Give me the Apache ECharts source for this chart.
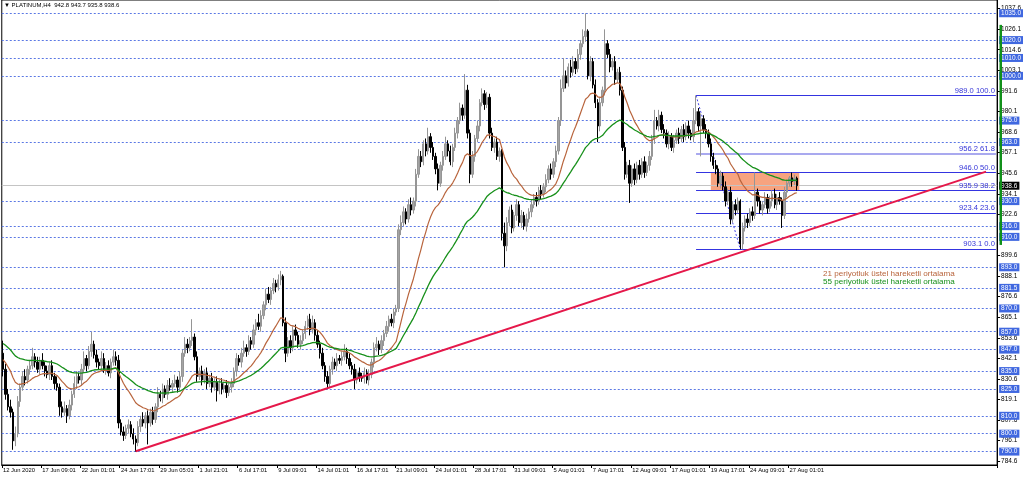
<!DOCTYPE html>
<html><head><meta charset="utf-8">
<script src="https://cdn.jsdelivr.net/npm/echarts@6/dist/echarts.min.js"></script>
<style>html,body{margin:0;padding:0;background:#fff}#c{width:1024px;height:478px}</style>
</head><body><div id="c"></div>
<script>
// ---------------- DATA ----------------
const firstOpen = 845;
const closes = [
836,822,815,812,796,800,818,826,832,830,
836,838,843,840,836,841,838,835,833,838,
832,828,826,815,812,814,810,816,822,828,
832,830,836,842,838,846,850,844,840,838,
842,836,838,834,840,843,841,806,801,799,
803,805,800,797,795,804,808,806,810,806,
812,808,815,822,820,825,822,827,826,828,
830,826,832,845,850,848,852,854,843,832,
835,830,834,828,831,826,829,824,828,825,
827,823,826,828,835,842,840,845,848,846,
852,850,858,862,860,866,872,878,875,880,
884,882,886,888,862,845,852,848,858,855,
850,852,856,860,864,858,862,855,850,845,
838,832,828,836,840,838,842,841,843,846,
842,838,836,830,834,832,831,834,830,833,
840,848,850,847,852,856,860,864,862,868,
870,914,918,924,920,928,925,930,945,955,
952,962,958,966,960,955,948,940,950,955,
962,958,952,960,968,975,982,978,992,968,
945,955,965,972,985,990,984,988,968,960,
963,955,958,912,905,918,925,915,922,928,
918,922,916,920,924,928,932,930,936,934,
938,942,948,945,952,958,975,993,1000,996,
1005,1002,1008,1004,1012,1018,1022,1025,1000,1008,
995,985,972,985,992,1018,1012,1005,1008,998,
1002,992,960,945,950,940,948,942,950,945,
952,946,950,955,965,975,972,978,970,968,
962,966,960,964,968,965,970,966,972,968,
966,975,980,972,976,970,968,962,955,950,
948,940,944,938,930,935,920,928,925,930,
906,915,920,918,924,922,935,930,925,928,
932,926,930,934,928,932,930,922,935,940,
943,941,942.8,938.6];
const upperWicks = [
7,3,3,4,2,4,3,2,3,4, 2,3,5,2,3,2,4,2,3,2, 3,2,4,2,3,4,2,3,2,4, 3,2,3,4,2,3,7,2,3,2,
4,3,2,3,2,4,3,3,2,3, 2,3,2,3,2,3,2,4,2,3, 2,3,2,4,2,3,2,3,4,2, 3,2,3,2,4,3,2,10,2,3,
2,3,2,3,2,3,2,3,2,3, 2,3,2,3,2,3,2,3,4,2, 3,2,3,2,5,3,2,3,4,2, 3,2,3,3,1,3,2,3,2,3,
2,3,2,3,2,3,4,2,3,2, 3,2,3,2,3,2,3,2,3,4, 2,3,2,3,2,3,2,3,2,3, 2,3,4,2,3,2,3,2,3,2,
2,3,4,3,2,3,4,2,3,4, 3,2,3,5,2,3,2,3,2,3, 4,2,3,2,3,2,3,2,9,3, 2,3,2,3,2,3,2,3,2,3,
2,3,2,1,6,3,2,3,2,3, 2,3,2,3,2,3,2,3,2,3, 2,3,2,3,2,3,2,5,10,3, 2,4,3,2,3,2,4,10,1,3,
2,3,2,3,2,8,2,3,2,3, 2,3,2,3,2,3,2,3,2,3, 2,3,2,3,2,6,2,3,2,3, 2,3,2,3,2,3,2,3,2,3,
2,7,9,2,3,2,3,2,3,2, 3,2,3,2,3,2,3,2,3,2, 1,3,2,3,2,3,11,2,3,2, 3,2,3,2,3,2,3,2,3,2,
1,3,2,0.9];
const lowerWicks = [
4,3,2,3,5,3,2,3,2,3, 2,3,2,3,2,3,2,3,2,3, 2,3,2,5,3,2,4,2,3,2, 3,2,3,2,3,2,3,2,3,2,
3,2,3,2,3,2,3,3,2,3, 2,3,2,3,5,2,3,2,3,12, 2,3,2,3,2,3,2,3,2,3, 2,3,2,3,2,3,2,3,2,3,
2,3,2,3,2,3,2,6,2,3, 2,3,2,3,2,3,2,3,2,3, 2,3,2,3,2,3,2,3,2,3, 2,3,2,3,2,5,2,3,2,3,
2,3,2,3,2,3,2,3,2,3, 2,3,3,2,3,2,3,2,3,2, 3,2,3,5,2,3,2,3,2,3, 2,3,2,3,2,3,2,3,2,3,
2,2,3,2,3,2,3,2,3,2, 3,2,3,2,3,2,3,4,2,3, 2,3,2,3,2,3,2,3,2,3, 5,2,3,2,3,2,3,2,3,2,
3,2,3,4,12,3,2,3,2,3, 2,3,2,3,2,3,2,3,2,3, 2,3,2,3,2,3,2,3,2,3, 2,3,2,3,2,3,2,3,2,3,
2,3,9,3,2,3,2,3,2,3, 2,3,2,3,2,11,2,3,2,3, 2,3,2,3,2,3,2,3,2,3, 2,3,2,3,2,3,2,3,2,3,
2,3,2,3,17,2,3,2,3,2, 3,2,3,2,3,2,3,2,3,2, 2.9,3,2,3,2,3,2,3,2,3, 2,3,2,3,2,3,2,7,2,3,
2,3,2,2.8];
const slotCount = 405;                 // chart slots incl. empty right margin
const xTickStep = 16;
const xTickLabels = ['12 Jun 2020','17 Jun 09:01','22 Jun 01:01','24 Jun 17:01','29 Jun 05:01',
 '1 Jul 21:01','6 Jul 17:01','9 Jul 09:01','14 Jul 01:01','16 Jul 17:01','21 Jul 09:01',
 '24 Jul 01:01','28 Jul 17:01','31 Jul 09:01','5 Aug 01:01','7 Aug 17:01','12 Aug 09:01',
 '17 Aug 01:01','19 Aug 17:01','24 Aug 09:01','27 Aug 01:01'];
const yTickValues = [784.6,796.1,807.6,819.1,830.6,842.1,853.6,865.1,876.6,888.1,899.6,
 922.6,934.1,945.6,957.1,968.6,980.1,991.6,1003.1,1014.6,1026.1,1037.6];
const levelLines = [1035,1020,1010,1000,975,963,930,916,910,893,881.5,870,857,847,835,825,810,800,790];
const fibLevels = [989.0,956.2,946.0,935.9,923.4,903.1];
const fibRatios = ['100.0','61.8','50.0','38.2','23.6','0.0'];
const fibStartBar = 282, fibEndBar = 404;
const fibSwing = [[282,989.0],[300,903.1]];
const trendLine = [[54,790.2],[400,946.5]];
const zoneBox = [[288,946.0],[324,935.9]];
const currentPrice = 938.6;
const rangeBar = [1028.5,905.5];
const emaSeed21 = 842, emaSeed55 = 851;
const headerText = '\u25BC PLATINUM,H4  942.8 943.7 935.8 938.6';
const legendTexts = ['21 periyotluk üstel hareketli ortalama','55 periyotluk üstel hareketli ortalama'];
// --------------------------------------

const FONT = "'Liberation Sans',Arial,sans-serif";
const categories = Array.from({length: slotCount}, (_, i) => String(i));
const candles = closes.map((c, i) => {
  const o = i === 0 ? firstOpen : closes[i - 1];
  return [o, c, Math.min(o, c) - lowerWicks[i], Math.max(o, c) + upperWicks[i]];
});
function ema(period, seed) {
  const k = 2 / (period + 1); let e = seed;
  return closes.map(c => { e = e + k * (c - e); return +e.toFixed(2); });
}
const ema21 = ema(21, emaSeed21), ema55 = ema(55, emaSeed55);
const lastBar = (xTickLabels.length - 1) * xTickStep;
const isTick = i => i % xTickStep === 0 && i <= lastBar;

const levelData = levelLines.map(v => ({
  yAxis: v,
  lineStyle: {color: '#5b78e4', type: [2, 2], width: 1},
  label: {show: true, position: 'end', formatter: v.toFixed(1), backgroundColor: '#4068e0', color: '#fff',
          fontSize: 6.5, fontFamily: FONT, padding: [1, 2, 0, 2], distance: 2}
}));
levelData.push({
  yAxis: currentPrice,
  lineStyle: {color: '#c4c4c4', type: 'solid', width: 1},
  label: {show: true, position: 'end', formatter: currentPrice.toFixed(1), backgroundColor: '#000', color: '#fff',
          fontSize: 6.5, fontFamily: FONT, padding: [1, 2, 0, 2], distance: 2}
});
const fibData = fibLevels.map((v, i) => [
  {coord: [fibStartBar, v],
   lineStyle: i === 1 ? {color: '#a9a9ef', width: 2, type: 'solid'} : {color: '#3434e0', width: 1, type: 'solid'},
   label: {show: true, position: 'insideEndTop', formatter: v.toFixed(1) + ' ' + fibRatios[i],
           color: '#3434d8', fontSize: 7.6, fontFamily: FONT, distance: 1}},
  {coord: [fibEndBar, v]}
]);
fibData.push([
  {coord: fibSwing[0], lineStyle: {color: '#4646e6', width: 1, type: [2, 2]}, label: {show: false}},
  {coord: fibSwing[1]}
]);

const chart = echarts.init(document.getElementById('c'), null, {renderer: 'canvas'});
chart.setOption({
  animation: false,
  backgroundColor: '#fff',
  grid: {left: 0, right: 25, top: 0, bottom: 13, show: true, borderColor: '#000', borderWidth: 1},
  xAxis: {
    type: 'category', data: categories, boundaryGap: true,
    axisLine: {show: true, lineStyle: {color: '#000', width: 1}},
    axisTick: {show: true, interval: isTick, length: 3, lineStyle: {color: '#000'}},
    axisLabel: {interval: isTick, formatter: (v, i) => xTickLabels[i / xTickStep] || '', align: 'left',
                fontSize: 5.8, fontFamily: FONT, color: '#000', margin: 2, hideOverlap: false},
    splitLine: {show: false}
  },
  yAxis: {
    type: 'value', position: 'right', min: 782.5, max: 1042.4,
    axisLine: {show: true, lineStyle: {color: '#000'}},
    axisTick: {show: true, customValues: yTickValues, length: 3, lineStyle: {color: '#000'}},
    axisLabel: {customValues: yTickValues, formatter: v => v.toFixed(1), fontSize: 6.5, fontFamily: FONT,
                color: '#000', margin: 4, showMinLabel: true, showMaxLabel: true},
    splitLine: {show: false}
  },
  series: [
    {
      type: 'line', name: 'objects', data: closes, showSymbol: false, silent: true, z: 1,
      lineStyle: {opacity: 0}, itemStyle: {opacity: 0},
      markArea: {silent: true, z: 1, itemStyle: {color: '#f7a37f', opacity: 1},
                 data: [[{coord: zoneBox[0]}, {coord: zoneBox[1]}]]},
      markLine: {silent: true, symbol: ['none', 'none'], z: 1, animation: false,
                 data: levelData.concat(fibData)}
    },
    {
      type: 'candlestick', name: 'PLATINUM,H4', data: candles, barWidth: 1.9, z: 2,
      itemStyle: {color: '#a4a4a4', color0: '#000', borderColor: '#959595', borderColor0: '#000', borderWidth: 1}
    },
    {type: 'line', name: 'EMA21', data: ema21, showSymbol: false, z: 3,
     lineStyle: {color: '#b8643c', width: 1.2}},
    {type: 'line', name: 'EMA55', data: ema55, showSymbol: false, z: 3,
     lineStyle: {color: '#17901a', width: 1.3}},
    {
      type: 'line', name: 'trend', data: [], z: 4,
      markLine: {silent: true, symbol: ['none', 'none'], z: 6, label: {show: false},
                 lineStyle: {color: '#e5184a', width: 2, type: 'solid'},
                 data: [[{coord: trendLine[0]}, {coord: trendLine[1]}]]}
    }
  ]
});

const yTop = chart.convertToPixel({yAxisIndex: 0}, rangeBar[0]);
const yBot = chart.convertToPixel({yAxisIndex: 0}, rangeBar[1]);
chart.setOption({
  graphic: [
    {type: 'rect', z: 50, shape: {x: 999.5, y: yTop, width: 2.5, height: yBot - yTop}, style: {fill: '#11901a'}},
    {type: 'text', z: 50, left: 4, top: 2, style: {text: headerText, fill: '#000', font: '6px ' + FONT}},
    {type: 'text', z: 50, left: 823, top: 270, style: {text: legendTexts[0], fill: '#b8643c', font: '8.1px ' + FONT}},
    {type: 'text', z: 50, left: 823, top: 278, style: {text: legendTexts[1], fill: '#17901a', font: '8.1px ' + FONT}}
  ]
});
</script>
</body></html>
